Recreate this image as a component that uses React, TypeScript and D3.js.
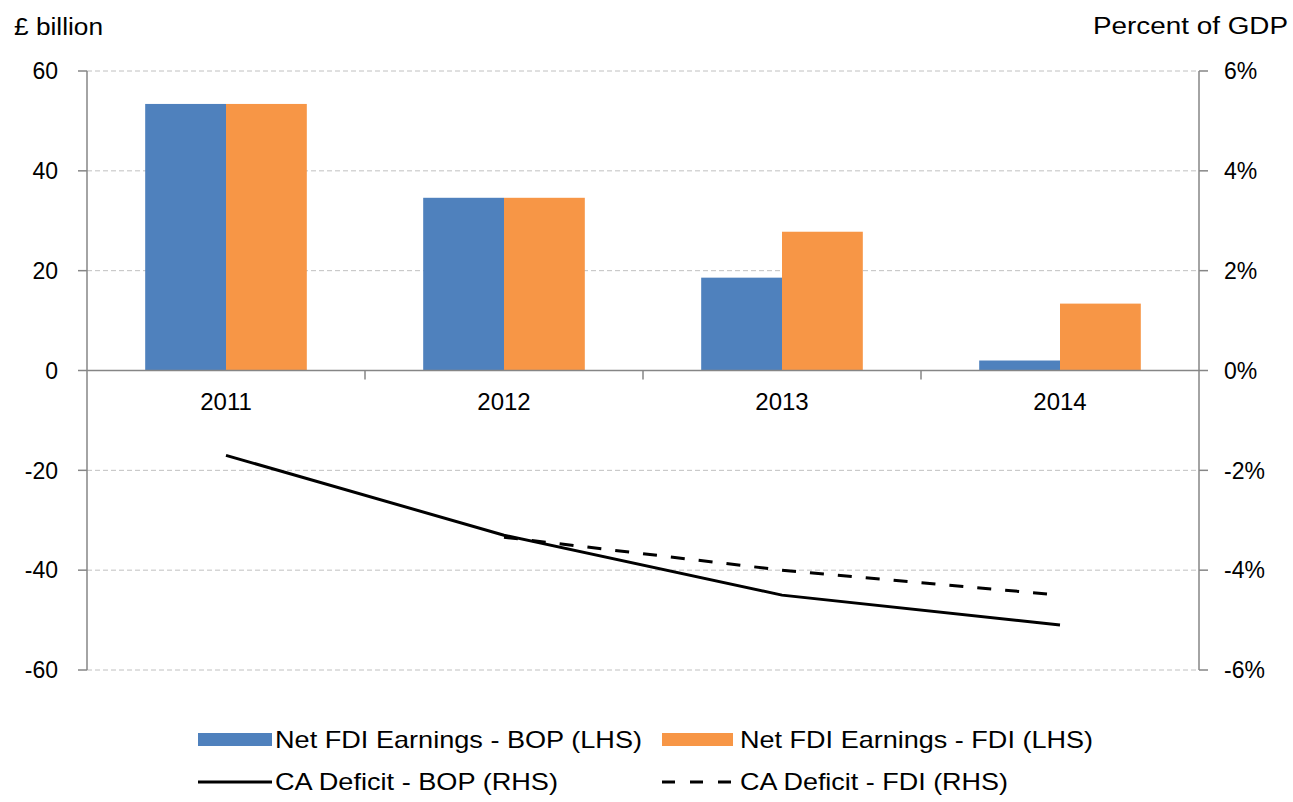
import * as d3 from "d3";

const years = ["2011", "2012", "2013", "2014"];
const earningsBop = [53.4, 34.6, 18.6, 2.0];
const earningsFdi = [53.4, 34.6, 27.8, 13.4];
const deficitBop = [-1.7, -3.3, -4.5, -5.1];
const deficitFdi = [-3.34, -4.0, -4.5]; // from 2012 onwards
const leftTicks = [60, 40, 20, 0, -20, -40, -60];
const rightTicks = [6, 4, 2, 0, -2, -4, -6];

const W = 1293;
const H = 802;
const left = 87;
const right = 1199;
const top = 71;
const bottom = 670;
const font = "'Liberation Sans', Arial, sans-serif";
const blue = "#4f81bd";
const orange = "#f79646";
const axisGrey = "#868686";

export default function App() {
  const x = d3.scaleBand().domain(years).range([left, right]);
  const sub = d3.scaleBand().domain(["bop", "fdi"]).range([0, x.bandwidth()]).paddingOuter(0.72).paddingInner(0);
  const yL = d3.scaleLinear().domain([-60, 60]).range([bottom, top]);
  const yR = d3.scaleLinear().domain([-6, 6]).range([bottom, top]);
  const cx = (y: string) => x(y)! + x.bandwidth() / 2;

  const bopLine = d3
    .line<number>()
    .x((_, i) => cx(years[i]))
    .y((v) => yR(v));
  const fdiLine = d3
    .line<number>()
    .x((_, i) => cx(years[i + 1]))
    .y((v) => yR(v));

  return (
    <svg width={W} height={H} style={{ position: "absolute", left: 0, top: 0, background: "#fff" }} fontFamily={font}>
      {/* grid */}
      {leftTicks
        .filter((t) => t !== 0)
        .map((t) => (
          <line key={t} x1={left} x2={right} y1={yL(t)} y2={yL(t)} stroke="#c0c0c0" strokeDasharray="5,3" />
        ))}
      {/* bars */}
      {years.map((y, i) => (
        <g key={y}>
          <rect x={x(y)! + sub("bop")!} width={sub.bandwidth()} y={yL(earningsBop[i])} height={yL(0) - yL(earningsBop[i])} fill={blue} />
          <rect x={x(y)! + sub("fdi")!} width={sub.bandwidth()} y={yL(earningsFdi[i])} height={yL(0) - yL(earningsFdi[i])} fill={orange} />
        </g>
      ))}
      {/* axes */}
      <line x1={left} x2={left} y1={top} y2={bottom} stroke={axisGrey} strokeWidth={1.5} />
      <line x1={right} x2={right} y1={top} y2={bottom} stroke={axisGrey} strokeWidth={1.5} />
      <line x1={left} x2={right} y1={yL(0)} y2={yL(0)} stroke={axisGrey} strokeWidth={1.5} />
      {leftTicks.map((t) => (
        <g key={"l" + t}>
          <line x1={left - 9} x2={left} y1={yL(t)} y2={yL(t)} stroke={axisGrey} strokeWidth={1.5} />
          <text x={58} y={yL(t)} dy="0.36em" textAnchor="end" fontSize={23} fill="#000">
            {t}
          </text>
        </g>
      ))}
      {rightTicks.map((t) => (
        <g key={"r" + t}>
          <line x1={right} x2={right + 9} y1={yR(t)} y2={yR(t)} stroke={axisGrey} strokeWidth={1.5} />
          <text x={1224} y={yR(t)} dy="0.36em" textAnchor="start" fontSize={23} fill="#000">
            {t + "%"}
          </text>
        </g>
      ))}
      {years.slice(1).map((y) => (
        <line key={"t" + y} x1={x(y)!} x2={x(y)!} y1={yL(0)} y2={yL(0) + 9} stroke={axisGrey} strokeWidth={1.5} />
      ))}
      {years.map((y) => (
        <text key={"x" + y} x={cx(y)} y={410} textAnchor="middle" fontSize={24} fill="#000">
          {y}
        </text>
      ))}
      {/* lines */}
      <path d={fdiLine(deficitFdi)!} fill="none" stroke="#000" strokeWidth={3} strokeDasharray="14,14" />
      <path d={bopLine(deficitBop)!} fill="none" stroke="#000" strokeWidth={3} />
      {/* axis titles */}
      <text x={14} y={35} fontSize={23} fill="#000" textLength={89} lengthAdjust="spacingAndGlyphs">
        £ billion
      </text>
      <text x={1093} y={34} fontSize={23} fill="#000" textLength={195} lengthAdjust="spacingAndGlyphs">
        Percent of GDP
      </text>
      {/* legend */}
      <rect x={198} y={733} width={74} height={13} fill={blue} />
      <text x={275} y={748} fontSize={24} fill="#000" textLength={367} lengthAdjust="spacingAndGlyphs">
        Net FDI Earnings - BOP (LHS)
      </text>
      <rect x={662} y={733} width={71} height={13} fill={orange} />
      <text x={740} y={748} fontSize={24} fill="#000" textLength={353} lengthAdjust="spacingAndGlyphs">
        Net FDI Earnings - FDI (LHS)
      </text>
      <line x1={198} x2={272} y1={782} y2={782} stroke="#000" strokeWidth={3} />
      <text x={275} y={790} fontSize={24} fill="#000" textLength={283} lengthAdjust="spacingAndGlyphs">
        CA Deficit - BOP (RHS)
      </text>
      <line x1={662} x2={733} y1={782} y2={782} stroke="#000" strokeWidth={3} strokeDasharray="13,15" />
      <text x={740} y={790} fontSize={24} fill="#000" textLength={268} lengthAdjust="spacingAndGlyphs">
        CA Deficit - FDI (RHS)
      </text>
    </svg>
  );
}
